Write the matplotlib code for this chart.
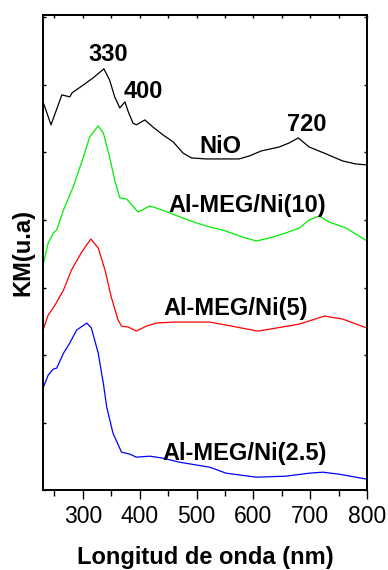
import matplotlib
matplotlib.use('Agg')
import matplotlib.pyplot as plt
import numpy as np
from matplotlib.ticker import MultipleLocator

plt.rcParams['font.family'] = ['Liberation Sans', 'DejaVu Sans']

# spectra (wavelength nm, KM in arbitrary units)
wl_nio = [230, 244, 263, 277, 281, 301, 318, 337, 347, 356, 365, 374, 380, 388, 394,
          409, 423, 441, 459, 476, 491, 517, 575, 593, 614, 646, 663, 679, 698, 728,
          757, 780, 800]
km_nio = [3.88, 3.65, 3.95, 3.93, 3.97, 4.05, 4.12, 4.21, 4.10, 3.93, 3.82, 3.88, 3.78,
          3.67, 3.65, 3.70, 3.63, 3.55, 3.48, 3.37, 3.32, 3.31, 3.31, 3.34, 3.39, 3.43,
          3.47, 3.52, 3.43, 3.36, 3.29, 3.26, 3.25]

wl_ni10 = [230, 239, 248, 254, 266, 283, 301, 312, 327, 336, 347, 356, 365, 377, 386,
           397, 418, 429, 453, 476, 500, 523, 546, 581, 605, 628, 657, 681, 698, 716,
           733, 763, 800]
km_ni10 = [2.25, 2.47, 2.57, 2.60, 2.80, 3.03, 3.33, 3.53, 3.64, 3.57, 3.33, 3.10, 2.92,
           2.91, 2.85, 2.78, 2.84, 2.82, 2.77, 2.72, 2.67, 2.63, 2.60, 2.53, 2.49, 2.52,
           2.57, 2.62, 2.70, 2.74, 2.68, 2.62, 2.49]

wl_ni5 = [230, 239, 251, 266, 280, 298, 314, 327, 339, 350, 362, 368, 380, 394, 412,
          429, 459, 488, 523, 552, 608, 640, 681, 725, 757, 800]
km_ni5 = [1.60, 1.75, 1.85, 2.00, 2.20, 2.38, 2.51, 2.42, 2.20, 1.93, 1.70, 1.64, 1.63,
          1.59, 1.64, 1.67, 1.68, 1.68, 1.68, 1.65, 1.59, 1.62, 1.66, 1.74, 1.71, 1.62]

wl_ni25 = [230, 239, 248, 254, 266, 277, 289, 307, 315, 327, 336, 342, 353, 368, 383,
           394, 418, 441, 470, 523, 552, 605, 657, 698, 722, 751, 800]
km_ni25 = [1.02, 1.15, 1.21, 1.22, 1.37, 1.47, 1.60, 1.67, 1.62, 1.37, 1.07, 0.83, 0.57,
           0.38, 0.36, 0.33, 0.34, 0.32, 0.28, 0.23, 0.17, 0.13, 0.14, 0.17, 0.18, 0.16,
           0.11]

fig = plt.figure(figsize=(3.88, 5.70), dpi=100)
ax = fig.add_axes([0.111, 0.140, 0.835, 0.834])

ax.plot(wl_nio, km_nio, color='black', lw=0.9)
ax.plot(wl_ni10, km_ni10, color='#00ee00', lw=0.9)
ax.plot(wl_ni5, km_ni5, color='red', lw=0.9)
ax.plot(wl_ni25, km_ni25, color='blue', lw=0.9)

ax.set_xlim(230, 800)
ax.set_ylim(0, 4.75)

# peak and sample labels
bold = dict(fontsize=17, fontweight='bold', ha='center', va='center')
ax.text(344, 4.35, '330', **bold)
ax.text(406, 3.985, '400', **bold)
ax.text(694, 3.655, '720', **bold)
ax.text(542, 3.43, 'NiO', **bold)
ax.text(590, 2.845, 'Al-MEG/Ni(10)', **bold)
ax.text(569, 1.815, 'Al-MEG/Ni(5)', **bold)
ax.text(584, 0.365, 'Al-MEG/Ni(2.5)', **bold)

# ticks
ax.xaxis.set_major_locator(MultipleLocator(100))
ax.xaxis.set_minor_locator(MultipleLocator(50))
ax.tick_params(axis='x', which='major', direction='out', length=6.5, width=1,
               labelsize=16.5, pad=4)
ax.tick_params(axis='x', which='minor', direction='out', length=4, width=1)
ax.yaxis.set_major_locator(MultipleLocator(1.35))
ax.yaxis.set_minor_locator(MultipleLocator(0.675))
ax.tick_params(axis='y', which='both', direction='in', left=True, right=True,
               labelleft=False, length=2.5, width=1)

top = ax.secondary_xaxis('top')
top.xaxis.set_major_locator(MultipleLocator(100))
top.xaxis.set_minor_locator(MultipleLocator(50))
top.tick_params(which='both', direction='in', length=2, width=1, labeltop=False)
top.spines['top'].set_linewidth(1.4)

for s in ax.spines.values():
    s.set_linewidth(1.4)

ax.set_xlabel('Longitud de onda (nm)', fontsize=17, fontweight='bold', labelpad=13)
ax.set_ylabel('KM(u.a)', fontsize=17, fontweight='bold', labelpad=6)

fig.savefig('out.png', dpi=100)
